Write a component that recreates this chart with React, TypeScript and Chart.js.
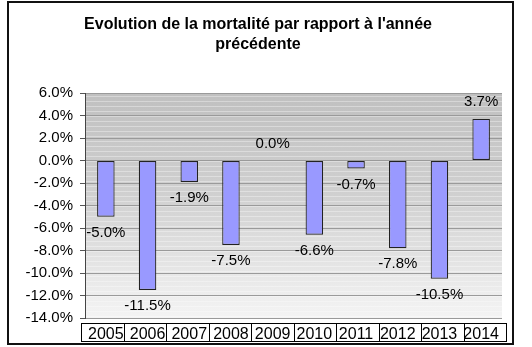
import React, { useEffect, useRef } from "react";
import { Chart, registerables } from "chart.js";

Chart.register(...registerables);

const years = ["2005", "2006", "2007", "2008", "2009", "2010", "2011", "2012", "2013", "2014"];
const changes = [-5.0, -11.5, -1.9, -7.5, 0.0, -6.6, -0.7, -7.8, -10.5, 3.7];
const titleLines = ["Evolution de la mortalité par rapport à l'année", "précédente"];
const yMin = -14;
const yMax = 6;

const FONT = "'Liberation Sans', Arial, Helvetica, sans-serif";

const decorPlugin = {
  id: "decor",
  beforeDraw(chart: any) {
    const { ctx, chartArea: a } = chart;
    ctx.save();
    ctx.fillStyle = "#ffffff";
    ctx.fillRect(0, 0, chart.width, chart.height);
    const g = ctx.createLinearGradient(0, a.top, 0, a.bottom);
    g.addColorStop(0, "#c0c0c0");
    g.addColorStop(0.45, "#d0d0d0");
    g.addColorStop(1, "#f4f4f4");
    ctx.fillStyle = g;
    ctx.fillRect(a.left, a.top, a.right - a.left, a.bottom - a.top);
    ctx.strokeStyle = "rgba(255,255,255,0.35)";
    ctx.lineWidth = 1;
    for (let y = a.top + 3; y < a.bottom; y += 5) {
      ctx.beginPath();
      ctx.moveTo(a.left, Math.round(y) + 0.5);
      ctx.lineTo(a.right, Math.round(y) + 0.5);
      ctx.stroke();
    }
    ctx.restore();
  },
  afterDraw(chart: any) {
    const { ctx } = chart;
    ctx.save();
    ctx.strokeStyle = "#111";
    ctx.lineWidth = 2;
    ctx.strokeRect(8, 2, 505, 342);
    ctx.fillStyle = "#000";
    ctx.font = `bold 16px ${FONT}`;
    ctx.textAlign = "center";
    ctx.textBaseline = "middle";
    ctx.fillText(titleLines[0], 258, 25);
    ctx.fillText(titleLines[1], 258, 45);
    const meta = chart.getDatasetMeta(0);
    ctx.font = `15px ${FONT}`;
    meta.data.forEach((bar: any, i: number) => {
      const v = changes[i];
      const yPix = v < 0 ? bar.y + 16 : bar.y - 17;
      ctx.fillText(v.toFixed(1) + "%", bar.x, yPix);
    });
    ctx.restore();
  },
};

const tableBoxesPlugin = {
  id: "tableBoxes",
  afterDraw(chart: any) {
    const { ctx, chartArea: a } = chart;
    const left = a.left - 4;
    const right = a.right + 4;
    const w = (right - left) / years.length;
    const top = a.bottom + 5;
    const h = 18;
    ctx.save();
    ctx.strokeStyle = "#000";
    ctx.lineWidth = 1;
    for (let i = 0; i < years.length; i++) {
      const x = Math.round(left + i * w) + 0.5;
      const x2 = Math.round(left + (i + 1) * w) + 0.5;
      ctx.strokeRect(x, top + 0.5, x2 - x, h);
    }
    ctx.restore();
  },
};

export default function App() {
  const ref = useRef<HTMLCanvasElement | null>(null);
  useEffect(() => {
    document.body.style.margin = "0";
    if (!ref.current) return;
    const chart = new Chart(ref.current, {
      type: "bar",
      data: {
        labels: years,
        datasets: [
          {
            data: changes,
            backgroundColor: "#9999ff",
            borderColor: "#222",
            borderWidth: 1.2,
            borderSkipped: false,
            barPercentage: 0.42,
            categoryPercentage: 1,
          },
        ],
      },
      options: {
        responsive: false,
        animation: false,
        devicePixelRatio: 1,
        layout: { padding: { left: 0, top: 93, right: 30, bottom: 0 } },
        plugins: {
          legend: { display: false },
          title: { display: false },
          tooltip: { enabled: false },
        },
        scales: {
          x: {
            grid: { display: false, drawTicks: false },
            border: { display: false },
            ticks: {
              color: "#000",
              font: { family: FONT, size: 16 },
              padding: 7,
              maxRotation: 0,
              autoSkip: false,
            },
            afterFit(scale: any) {
              scale.height = 29;
            },
          },
          y: {
            min: yMin,
            max: yMax,
            grid: {
              color: "#9a9a9a",
              tickColor: "#555",
              tickLength: 5,
              lineWidth: 1,
            },
            border: { display: true, color: "#444", width: 1 },
            ticks: {
              stepSize: 2,
              color: "#000",
              font: { family: FONT, size: 15 },
              padding: 7,
              callback: (v: any) => Number(v).toFixed(1) + "%",
            },
            afterFit(scale: any) {
              scale.width = 85;
            },
          },
        },
      },
      plugins: [decorPlugin, tableBoxesPlugin],
    });
    return () => chart.destroy();
  }, []);
  return <canvas ref={ref} width={532} height={347} style={{ display: "block" }} />;
}
